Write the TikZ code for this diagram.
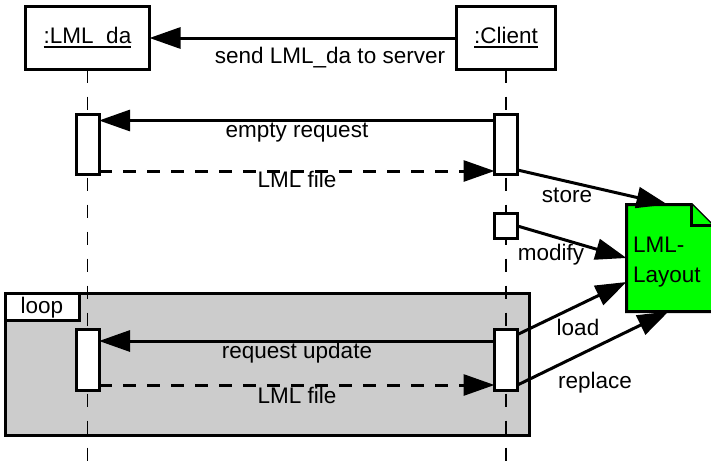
\documentclass[tikz,border=0pt]{standalone}
\usepackage{fontspec}
\setmainfont{Liberation Sans}
\usetikzlibrary{arrows.meta}
\definecolor{loopgray}{RGB}{204,204,204}
\definecolor{notegreen}{RGB}{0,255,0}
% object name with a close underline
\newcommand\objname[1]{\setbox0\hbox{#1}\rlap{\rule[-4.2pt]{\wd0}{1.6pt}}\box0}
\begin{document}
\begin{tikzpicture}[x=1pt,y=-1pt,
  font=\fontsize{22.5pt}{30pt}\selectfont,
  every node/.style={inner sep=0pt,outer sep=0pt},
  objbox/.style={draw,line width=3pt,fill=white},
  actbox/.style={draw,line width=3pt,fill=white,minimum width=23pt},
  lifeline/.style={line width=1.8pt,dash pattern=on 13pt off 14pt},
  msg/.style={line width=3pt,-{Triangle[length=31pt,width=21pt]}},
  reply/.style={msg,dash pattern=on 13pt off 11pt},
  lbl/.style={anchor=base}]
\useasboundingbox (0,0) rectangle (711,463);

% combined fragment
\node[draw,line width=3pt,fill=loopgray,anchor=north west,
      minimum width=524pt,minimum height=142pt] (frame) at (5.5,293.5) {};
\node[draw,line width=3pt,fill=white,anchor=north west,
      minimum width=73.5pt,minimum height=27pt] (looptag) at (5.5,293.5) {};
\node[lbl] at (42,313) {loop};

% object heads
\node[objbox,minimum width=124pt,minimum height=63pt] (lml) at (87.5,38) {};
\node[objbox,minimum width=99pt,minimum height=63pt] (client) at (506,38) {};
\node[lbl] at (87.5,43.5) {\objname{:LML\_da}};
\node[lbl] at (506,43.5) {\objname{:Client}};

% lifelines
\coordinate (lmlend) at (87.5,470);
\coordinate (clientend) at (506,470);
\draw[lifeline] (lml.south) -- (lmlend);
\draw[lifeline] (client.south) -- (clientend);

% activations
\node[actbox,minimum height=60pt] (a1) at (87.5,144.5) {};
\node[actbox,minimum height=60pt] (c1) at (506,144.5) {};
\node[actbox,minimum height=25pt] (c2) at (506,226) {};
\node[actbox,minimum height=61pt] (a2) at (87.5,360) {};
\node[actbox,minimum height=61pt] (c3) at (506,360) {};

% note
\node[minimum width=86pt,minimum height=107pt] (note) at (669.5,258) {};
\filldraw[line width=3pt,fill=notegreen,line join=miter]
  (note.north west) -- ([xshift=-21pt]note.north east)
  -- ([yshift=-21pt]note.north east) -- (note.south east)
  -- (note.south west) -- cycle;
\draw[line width=3pt,fill=notegreen]
  ([xshift=-21pt]note.north east) |- ([yshift=-21pt]note.north east);
\node[anchor=north west,align=left] at (633,237) {LML-\\Layout};

% messages
\draw[msg] (client.west) -- (lml.east);
\node[lbl] at (330,63) {send LML\_da to server};

\draw[msg] ([yshift=-6pt]c1.north west) -- ([yshift=-6pt]a1.north east);
\node[lbl] at (297,137) {empty request};
\draw[reply] ([yshift=3.5pt]a1.south east) -- ([yshift=3.5pt]c1.south west);
\node[lbl] at (297,187) {LML file};

\draw[msg] ([yshift=4.5pt]c1.south east) -- ([xshift=-2pt]note.north);
\node[lbl] at (567,202) {store};
\draw[msg] (c2.east) -- (note.west);
\node[lbl] at (551,260) {modify};

\draw[msg] ([yshift=-11.5pt]c3.north west) -- ([yshift=-11.5pt]a2.north east);
\node[lbl] at (297,358) {request update};
\draw[reply] ([yshift=5.5pt]a2.south east) -- ([yshift=5.5pt]c3.south west);
\node[lbl] at (297,403) {LML file};

\draw[msg] ([yshift=-5pt]c3.north east) -- ([yshift=29.5pt]note.south west);
\node[lbl] at (578,335) {load};
\draw[msg] ([yshift=5.5pt]c3.south east) -- ([xshift=-1pt]note.south);
\node[lbl] at (595,388) {replace};
\end{tikzpicture}
\end{document}
